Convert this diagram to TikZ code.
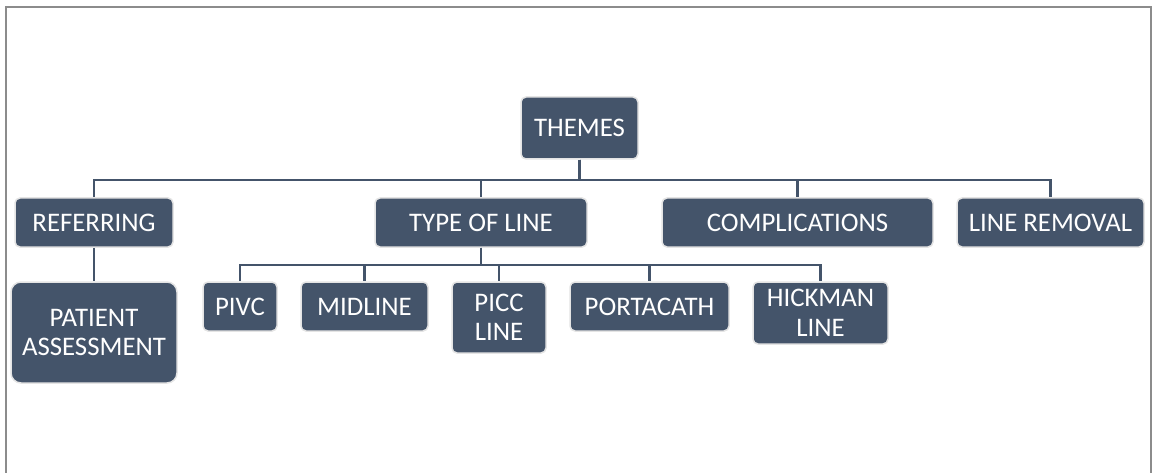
\documentclass[tikz,border=0pt]{standalone}
\usepackage{fontspec}
\setmainfont{Carlito}
\definecolor{slate}{HTML}{44546A}
\definecolor{rim}{HTML}{E4E4E4}
\definecolor{frame}{HTML}{8C8C8C}
\begin{document}
\begin{tikzpicture}[x=1pt,y=-1pt,
  box/.style={fill=slate,draw=rim,line width=1.5pt,rounded corners=5pt,text=white,
    inner sep=0pt,align=center,font=\fontsize{26.8}{29.5}\selectfont},
  link/.style={draw=slate,line width=2.2pt}]
\useasboundingbox (0,0) rectangle (1153,473);
\draw[frame,line width=1.6pt] (6,473) -- (6,7) -- (1151,7) -- (1151,473);
\node[box,minimum width=117pt,minimum height=62pt] (themes) at (579.5,128) {THEMES};
\node[box,minimum width=158pt,minimum height=49pt] (ref) at (94,222.5) {REFERRING};
\node[box,minimum width=166pt,minimum height=101pt,rounded corners=10pt] (pat) at (94,332.5) {PATIENT\\ASSESSMENT};
\node[box,minimum width=212pt,minimum height=49pt] (type) at (481,222.5) {TYPE OF LINE};
\node[box,minimum width=271pt,minimum height=49pt] (comp) at (797.5,222.5) {COMPLICATIONS};
\node[box,minimum width=187pt,minimum height=49pt] (rem) at (1050.5,222.5) {LINE REMOVAL};
\node[box,minimum width=74pt,minimum height=49pt] (pivc) at (240,306.5) {PIVC};
\node[box,minimum width=127pt,minimum height=49pt] (mid) at (364.5,306.5) {MIDLINE};
\node[box,minimum width=94pt,minimum height=71pt] (picc) at (499,317.5) {PICC\\LINE};
\node[box,minimum width=159pt,minimum height=49pt] (port) at (649.5,306.5) {PORTACATH};
\node[box,minimum width=135pt,minimum height=62pt] (hick) at (820.5,313) {HICKMAN\\LINE};
\draw[link] (themes.south) -- ++(0,20) -| (ref.north);
\draw[link] (themes.south) -- ++(0,20) -| (type.north);
\draw[link] (themes.south) -- ++(0,20) -| (comp.north);
\draw[link] (themes.south) -- ++(0,20) -| (rem.north);
\draw[link] (ref.south) -- (pat.north);
\draw[link] (type.south) -- ++(0,17) -| (pivc.north);
\draw[link] (type.south) -- ++(0,17) -| (mid.north);
\draw[link] (type.south) -- ++(0,17) -| (picc.north);
\draw[link] (type.south) -- ++(0,17) -| (port.north);
\draw[link] (type.south) -- ++(0,17) -| (hick.north);
\end{tikzpicture}
\end{document}
